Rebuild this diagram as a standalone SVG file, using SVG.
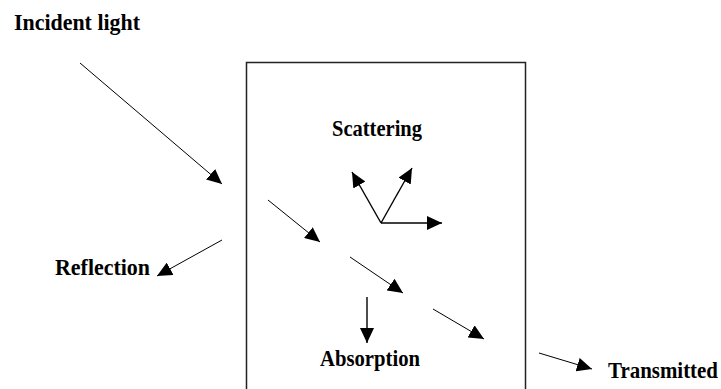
<svg xmlns="http://www.w3.org/2000/svg" width="721" height="389" viewBox="0 0 721 389">
  <style>
    .lbl { font-family: "Liberation Serif", "Times New Roman", serif; font-size: 19px; font-weight: bold; fill: #000; }
    .ray { stroke: #000; stroke-width: 1; fill: none; marker-end: url(#head); }
    .ray2 { stroke: #000; stroke-width: 1.4; fill: none; marker-end: url(#head); }
    .box { fill: #fff; stroke: #222; stroke-width: 1.5; }
  </style>
  <defs>
    <marker id="head" markerUnits="userSpaceOnUse" markerWidth="16" markerHeight="14" refX="15" refY="7" orient="auto">
      <path d="M0,0 L15,7 L0,14 z" fill="#000"/>
    </marker>
  </defs>
  <rect width="721" height="389" fill="#fff"/>

  <g id="sample">
    <rect class="box" x="246.5" y="62.5" width="279" height="340"/>
  </g>

  <!-- labels are drawn slightly tall and narrow -->
  <g id="incident-label" transform="translate(14,30) scale(1,1.2)">
    <text class="lbl" x="0" y="0" textLength="126" lengthAdjust="spacingAndGlyphs">Incident light</text>
  </g>
  <g id="scattering" transform="translate(332,136) scale(1,1.2)">
    <text class="lbl" x="0" y="0" textLength="90" lengthAdjust="spacingAndGlyphs">Scattering</text>
  </g>
  <g id="reflection" transform="translate(55,275) scale(1,1.2)">
    <text class="lbl" x="0" y="0" textLength="95" lengthAdjust="spacingAndGlyphs">Reflection</text>
  </g>
  <g id="absorption" transform="translate(320,366) scale(1,1.2)">
    <text class="lbl" x="0" y="0" textLength="100" lengthAdjust="spacingAndGlyphs">Absorption</text>
  </g>
  <g id="transmitted" transform="translate(608,378) scale(1,1.2)">
    <text class="lbl" x="0" y="0" textLength="110" lengthAdjust="spacingAndGlyphs">Transmitted</text>
  </g>

  <g id="connectors">
    <line class="ray" x1="80" y1="63" x2="222" y2="184"/>
    <line class="ray" x1="268" y1="200" x2="320" y2="242"/>
    <line class="ray" x1="350" y1="257" x2="403" y2="293"/>
    <line class="ray" x1="433" y1="309" x2="484" y2="339"/>
    <line class="ray" x1="539" y1="353" x2="592" y2="369"/>
    <line class="ray" x1="222" y1="240" x2="157" y2="276"/>
    <line class="ray2" x1="367" y1="297" x2="367" y2="343"/>
    <line class="ray2" x1="381" y1="223" x2="352" y2="172"/>
    <line class="ray2" x1="381" y1="223" x2="412" y2="168"/>
    <line class="ray2" x1="381" y1="223" x2="442" y2="223"/>
  </g>
</svg>
